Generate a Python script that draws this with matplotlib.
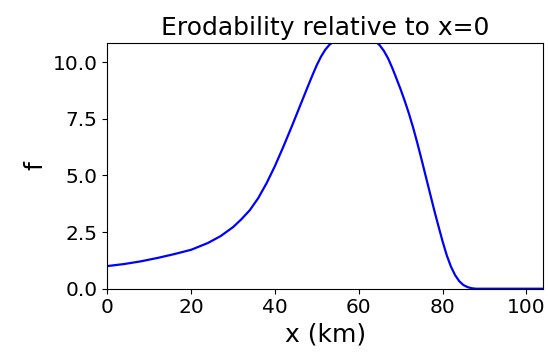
import matplotlib
matplotlib.use("Agg")
import matplotlib.pyplot as plt

# distância ao longo do perfil (km) e erodabilidade relativa
x_km = [0, 4, 8, 12, 16, 20, 24, 27, 30, 32, 34, 36, 38, 40, 42, 44, 46, 48,
        49, 50, 51, 52, 53, 54, 56, 58, 60, 62, 64, 65, 66, 67, 68, 69, 70,
        71, 72, 73, 74, 75, 76, 77, 78, 79, 80, 81, 82, 83, 84, 85, 86, 87,
        88, 90, 95, 100, 104]
f_rel = [1.00, 1.09, 1.21, 1.36, 1.53, 1.72, 2.02, 2.32, 2.72, 3.07, 3.47,
         4.00, 4.66, 5.42, 6.27, 7.16, 8.08, 9.00, 9.45, 9.88, 10.25, 10.55,
         10.77, 10.92, 11.08, 11.20, 11.25, 11.15, 10.92, 10.75, 10.50, 10.17,
         9.75, 9.28, 8.80, 8.28, 7.72, 7.10, 6.42, 5.70, 4.96, 4.22, 3.48,
         2.78, 2.10, 1.48, 0.98, 0.60, 0.33, 0.16, 0.07, 0.02, 0.0, 0.0, 0.0,
         0.0, 0.0]

fig = plt.figure(figsize=(5.48, 3.6), dpi=100)
ax = fig.add_axes([0.196, 0.198, 0.795, 0.682])
ax.plot(x_km, f_rel, color='b', linewidth=1.6)
ax.set_xlim(0, 104)
ax.set_ylim(0, 10.84)
ax.set_xticks([0, 20, 40, 60, 80, 100])
ax.set_yticks([0, 2.5, 5.0, 7.5, 10.0])
ax.tick_params(labelsize=14.5)
ax.set_xlabel('x (km)', fontsize=18)
ax.set_ylabel('f', fontsize=18)
ax.set_title('Erodability relative to x=0', fontsize=18)

fig.savefig('out.png', dpi=100)
